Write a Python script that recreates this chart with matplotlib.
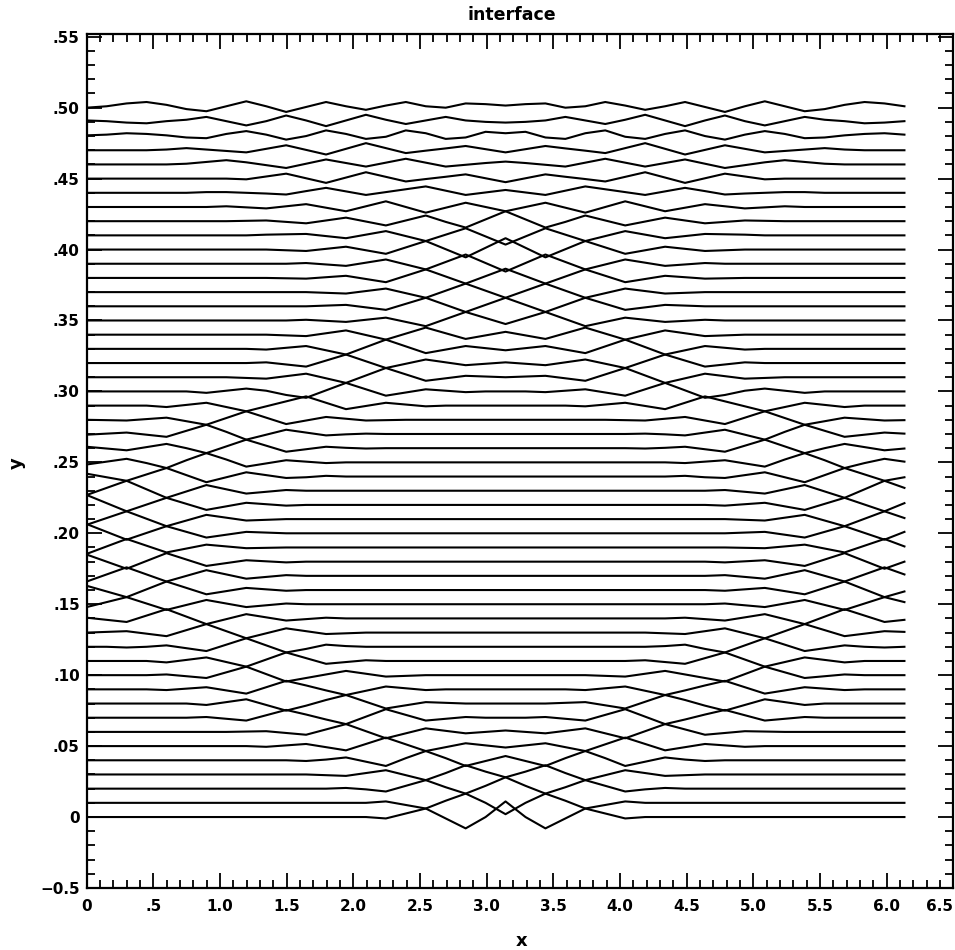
import numpy as np
import matplotlib.pyplot as plt
from matplotlib.ticker import FixedLocator, MultipleLocator

plt.rcParams['font.family'] = ['DejaVu Sans']

# interface displacement (units of 0.001) at the grid points x_k = k*pi/21, k = 0..21.
# every profile is mirror-symmetric about x = pi, so only the left half is listed.
# row n is time step n, drawn shifted up by 0.01*n
eta = [
    [0, 0, 0, 0, 0, 0, 0, 0, 0, 0, 0, 0, 0, 0, 0, -1, 2.5, 6, -1, -8, 0, 11],
    [0, 0, 0, 0, 0, 0, 0, 0, 0, 0, 0, 0, 0, 0, 0, 1, -1.5, -4, 1.5, 6.5, 0, -8],
    [0, 0, 0, 0, 0, 0, 0, 0, 0, 0, 0, 0, 0, 0.5, -0.5, -2, 2, 6, 1, -3.5, 2, 8],
    [0, 0, 0, 0, 0, 0, 0, 0, 0, 0, 0, 0, -0.5, -1, 1, 3, -0.5, -4, 1, 6.5, 2, -2],
    [0, 0, 0, 0, 0, 0, 0, 0, 0, 0, 0, -0.5, 0.5, 2, -1, -4, 1.5, 6.5, 1.5, -4, -0.5, 3],
    [0, 0, 0, 0, 0, 0, 0, 0, 0, -0.5, 0.5, 1.5, -0.75, -3, 1.5, 6, 1.25, -3.5, -0.75, 2, 0.5, -1],
    [0, 0, 0, 0, 0, 0, 0, 0, 0.25, 0.5, -0.75, -2, 1.75, 5.5, 0.5, -4.5, -1, 2.5, 0.75, -1, 0, 1],
    [0, 0, 0, 0, 0, 0, 0.5, -0.75, -2, 1.75, 5.5, 2.25, -1.25, -4.5, 0.75, 6, 2, -2, -0.75, 0.5, 0, 0],
    [0, 0, 0, 0, 0, 0, -1, 1, 3, -1, -5, -1.5, 2.5, 6, 1.25, -3.5, -1.25, 1, 0.5, 0, 0, 0],
    [0, 0, 0, 0, -0.5, 0.5, 1.5, -0.75, -3, 1.5, 6, 2.75, -0.75, -4, -1, 2, 0.75, -0.5, 0, 0, 0, 0],
    [0, 0, 0, 0, 0.5, -0.75, -2, 2, 6, 0.75, -4.5, -2, 0.5, 3, 1, -1, -0.5, 0, 0, 0, 0, 0],
    [0, 0, 0, 0, -1, 0.75, 2.5, -0.75, -4, 1, 6, 2, -2, -0.75, 0.5, 0, 0, 0, 0, 0, 0, 0],
    [0, 0, -0.5, 0, 1, -1, -3, 1.5, 6, 1, -4, -1.5, 1.5, 0.5, 0, 0, 0, 0, 0, 0, 0, 0],
    [0, 0.5, 1, -0.75, -2.5, 1.75, 6, 1, -4, -0.5, 3, 1, -1, -0.5, 0, 0, 0, 0, 0, 0, 0, 0],
    [0.5, -1, -2.5, 2, 6.5, 1.25, -4, -0.5, 3, 0.75, -1.5, -0.5, 0.5, 0, 0, 0, 0, 0, 0, 0, 0, 0],
    [-2, 1.5, 5, 0.5, -4, -0.5, 3, 0.5, -2, -0.75, 0.5, 0, 0, 0, 0, 0, 0, 0, 0, 0, 0, 0],
    [3, -1, -5, 0.5, 6, 1.5, -3, -0.75, 1.5, 0.5, -0.5, 0, 0, 0, 0, 0, 0, 0, 0, 0, 0, 0],
    [-4, 1, 6, 1, -4, 0, 4, 1, -2, -0.75, 0.5, 0, 0, 0, 0, 0, 0, 0, 0, 0, 0, 0],
    [5, 0, -5, 0.5, 6, 1.5, -3, -1, 1, 0.25, -0.5, 0, 0, 0, 0, 0, 0, 0, 0, 0, 0, 0],
    [-4.5, 0.75, 6, 1.25, -3.5, -0.75, 2, 0.75, -0.5, -0.25, 0, 0, 0, 0, 0, 0, 0, 0, 0, 0, 0, 0],
    [6.5, 1, -4.5, 0.25, 5, 1, -3, -1, 1, 0.5, 0, 0, 0, 0, 0, 0, 0, 0, 0, 0, 0, 0],
    [-4, 0.75, 5.5, 0.25, -5, -1, 3, 1, -1, -0.5, 0, 0, 0, 0, 0, 0, 0, 0, 0, 0, 0, 0],
    [7, 1.25, -4.5, 0.25, 5, 0.75, -3.5, -1, 1.5, 0.5, -0.5, 0, 0, 0, 0, 0, 0, 0, 0, 0, 0, 0],
    [-3, 2, 7, 1, -5, -0.5, 4, 1, -2, -0.75, 0.5, 0, 0, 0, 0, 0, 0, 0, 0, 0, 0, 0],
    [2, -0.5, -3, 1.5, 6, 1, -4, -0.5, 3, 1, -1, -0.5, 0.5, 0, 0, 0, 0, 0, 0, 0, 0, 0],
    [-1.5, 0.5, 2.5, -0.5, -4, 1.5, 6.5, 2, -3, -0.75, 1.5, 0.5, -0.5, 0, 0, 0, 0, 0, 0, 0, 0, 0],
    [1, -0.25, -1.5, 0.75, 3, 0, -3.5, 1.25, 6, 1.75, -2.5, -0.75, 1, 0.25, -0.25, 0, 0, 0, 0, 0, 0, 0],
    [-0.5, 0.25, 1, -0.5, -2, 2.25, 6.5, 1.5, -4, -0.5, 3, 1, -1, -0.25, 0.25, 0, 0, 0, 0, 0, 0, 0],
    [0, -0.25, -0.5, 0.5, 1.5, -1, -3.5, 1.25, 6, 1.5, -3, -0.5, 2, 0.75, -0.5, -0.25, 0, 0, 0, 0, 0, 0],
    [0, 0, 0, 0, -1, 0.5, 2, -1, -4, -0.5, 3, 6.5, 2, -2.5, -0.25, 2, 0.75, -0.5, 0, 0, 0, 0],
    [0, 0, 0, 0, 0, 0, -1, 0.5, 2, 0.5, -2.5, -4.5, 0.75, 6, 1.5, -3, -0.75, 1.5, 0.5, -0.5, 0, 0],
    [0, 0, 0, 0, 0, 0, 0, 0, -0.5, -1, 0.75, 2.5, -0.75, -4, 1.25, 6.5, 2, -2.5, -0.75, 1, 0.5, 0],
    [0, 0, 0, 0, 0, 0, 0, 0, 0, 0.5, -1, -2.5, 1.75, 6, 1.25, -3.5, -0.5, 2.5, 0.5, -1.5, -0.5, 0.5],
    [0, 0, 0, 0, 0, 0, 0, 0, 0, -0.5, 0.75, 2, -1, -4, 1.25, 6.5, 1.75, -3, -0.5, 2, 0.5, -1],
    [0, 0, 0, 0, 0, 0, 0, 0, 0, 0, -0.5, -1, 1, 3, -0.25, -3.5, 0.75, 5, 1, -3, -0.5, 2],
    [0, 0, 0, 0, 0, 0, 0, 0, 0, 0, 0, 0.5, -0.25, -1, 0.5, 2, -1, -4, 1, 6, 1.75, -2.5],
    [0, 0, 0, 0, 0, 0, 0, 0, 0, 0, 0, 0, 0.5, 1, -0.75, -2.5, 1.75, 6, 1, -4, 1, 6],
    [0, 0, 0, 0, 0, 0, 0, 0, 0, 0, 0, 0, -0.5, -1, 0.75, 2.5, -0.75, -4, 1, 6, 1, -4],
    [0, 0, 0, 0, 0, 0, 0, 0, 0, 0, -0.25, -0.5, 0.5, 1.5, -0.75, -3, 1.5, 6, 1, -4, 1.25, 6.5],
    [0, 0, 0, 0, 0, 0, 0, 0, 0, 0, 0, 0.5, -0.5, -1.5, 0.75, 3, -0.5, -4, 1.25, 6.5, 0.5, -5.5],
    [0, 0, 0, 0, 0, 0, 0, 0, 0, 0, -0.5, -1, 0.5, 2, -0.5, -3, 1.5, 6, 0.25, -5.5, 1.25, 8],
    [0, 0, 0, 0, 0, 0, 0, 0, 0, 0.5, 0.75, 1, -0.5, -2, 0.5, 3, -0.5, -4, 0.5, 5, -0.75, -6.5],
    [0, 0, 0, 0, 0, 0, 0, 0, 0.25, 0.5, -0.5, -1.5, 0.5, 2.5, -0.25, -3, 0.5, 4, -0.5, -4.5, 1.25, 7],
    [0, 0, 0, 0, 0, 0, 0, 0.5, -0.25, -1, 0.5, 2, -0.5, -3, 0.5, 4, 0, -4, -0.5, 3, 0, -3],
    [0, 0, 0, 0, 0, 0, 0.5, 0.5, 0, -0.5, -1.2, 1.2, 3.5, 1, -1.5, 0.5, 2.5, 4.5, 1.5, -1.5, 0.25, 2],
    [0, 0, 0, 0, 0, 0, 0, 0, -0.5, 1.5, 3.5, 0.25, -3, 0.75, 4.5, 1.25, -2, -0.3, 1.3, 3, 0.25, -2.5],
    [0, 0, 0, 0, 0, 0.5, 1.75, 3, 1.5, -0.5, -2.5, 0.5, 3.5, 1, -1.5, 1.25, 4, 1.25, -1.5, -0.25, 1, 2],
    [0, 0, 0, 0, 0.5, 1.5, 0.5, -0.5, -1.5, 1, 3.5, 0.25, -3, 1, 5, 1.5, -2, -0.3, 1.3, 3, 0.75, -1.5],
    [0.5, 1, 2, 1.5, 0.5, -1, -1.5, 1.5, 3.5, 1, -2.5, 0, 4, 1.5, -2, -0.5, 4, 2, -2, -1, 3, 2],
    [1, 0.5, -0.5, -1, 0.5, 1.5, 3.5, 0.5, -2.5, 0.5, 4.5, 1, -3, 1, 5, 1.5, -1.5, 1, 3.5, 1, 0, -0.5],
    [0, 1, 3, 4, 2, -1, -2.5, 1, 4.5, 1, -3, 0.5, 4, 1, -1.5, 1.5, 4, 1, 0, 3, 2.5, 1.5],
]
offset_step = 0.01

xticks = [0, 0.5, 1.0, 1.5, 2.0, 2.5, 3.0, 3.5, 4.0, 4.5, 5.0, 5.5, 6.0, 6.5]
xlabels = ['0', '.5', '1.0', '1.5', '2.0', '2.5', '3.0', '3.5', '4.0', '4.5',
           '5.0', '5.5', '6.0', '6.5']
yticks = [-0.05, 0, 0.05, 0.10, 0.15, 0.20, 0.25, 0.30, 0.35, 0.40, 0.45, 0.50, 0.55]
ylabels = ['\u22120.5', '0', '.05', '.10', '.15', '.20', '.25', '.30', '.35', '.40',
           '.45', '.50', '.55']

x_half = np.arange(22) * np.pi / 21
# periodic profile: drawn up to the last grid point before 2*pi
x = np.concatenate([x_half, 2 * np.pi - x_half[-2:0:-1]])

fig = plt.figure(figsize=(9.55, 9.5), dpi=100)
ax = fig.add_axes([0.0908, 0.0653, 0.9074, 0.899])

for n, row in enumerate(eta):
    h = np.array(row) * 0.001
    y = np.concatenate([h, h[-2:0:-1]])
    ax.plot(x, offset_step * n + y, color='black', lw=1.5)

ax.set_xlim(0, 6.5)
ax.set_ylim(-0.05, 0.552)
ax.xaxis.set_major_locator(FixedLocator(xticks))
ax.xaxis.set_minor_locator(MultipleLocator(0.1))
ax.yaxis.set_major_locator(FixedLocator(yticks))
ax.yaxis.set_minor_locator(MultipleLocator(0.01))
ax.set_xticklabels(xlabels, fontweight='bold')
ax.set_yticklabels(ylabels, fontweight='bold')
ax.get_xticklabels()[-1].set_horizontalalignment('right')
ax.tick_params(which='both', direction='in', top=True, right=True, width=1.3)
ax.tick_params(which='major', length=11, labelsize=11)
ax.tick_params(axis='x', which='major', pad=8)
ax.tick_params(axis='y', which='major', pad=5)
ax.tick_params(which='minor', length=6)
for s in ax.spines.values():
    s.set_linewidth(1.6)

fig.text(0.536, 0.984, 'interface', ha='center', va='center', fontsize=12.5, fontweight='bold')
fig.text(0.5466, 0.0095, 'x', ha='center', va='center', fontsize=13, fontweight='bold')
fig.text(0.0178, 0.5126, 'y', ha='center', va='center', rotation=90, fontsize=13,
         fontweight='bold')

fig.savefig('out.png', dpi=100)
